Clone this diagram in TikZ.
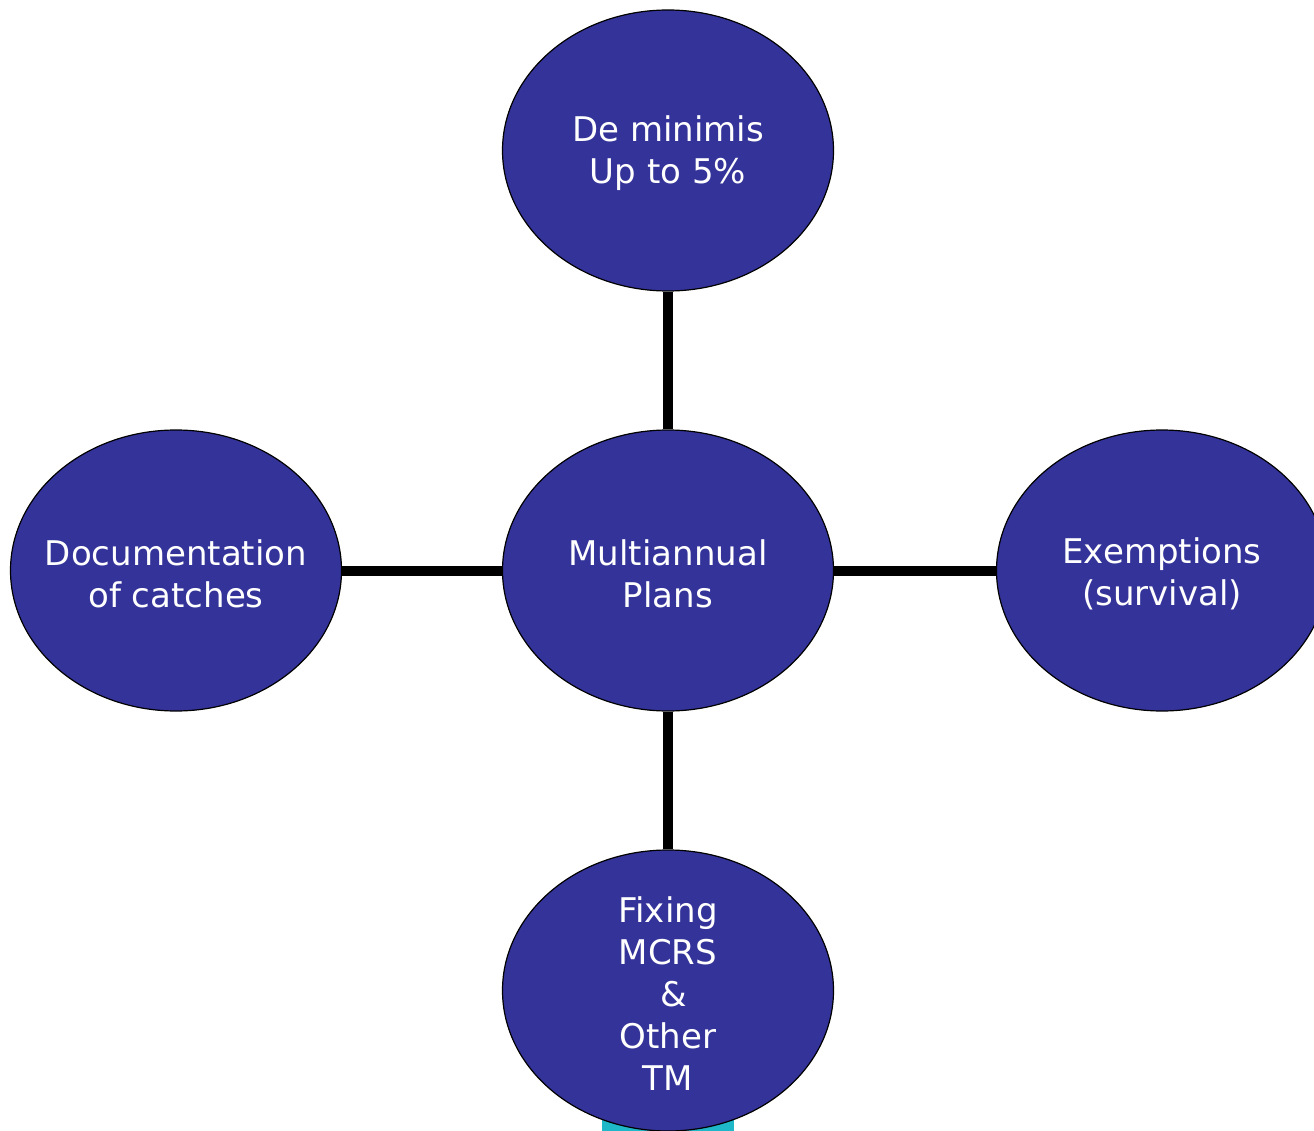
\documentclass[tikz,border=0pt]{standalone}
\usepackage{fontspec}
\setmainfont{DejaVu Sans}
\usetikzlibrary{shapes.geometric}
\definecolor{bubble}{HTML}{333399}
\definecolor{cyanbar}{HTML}{1FB8C8}
\tikzset{
  bubble/.style={ellipse, draw=black, line width=1.2pt, fill=bubble,
    minimum width=331pt, minimum height=281pt, inner sep=0pt},
  lbl/.style={text=white, align=center, inner sep=0pt,
    font=\fontsize{34pt}{42pt}\selectfont},
  link/.style={draw=black, line width=10pt}
}
\begin{document}
\begin{tikzpicture}[x=1pt,y=1pt]
\useasboundingbox (0,0) rectangle (1314,-1131);
\fill[cyanbar] (602,-1116) rectangle (734,-1131);
\node[bubble] (top) at (668,-150.5) {};
\node[bubble] (mid) at (668,-570.5) {};
\node[bubble] (left) at (176,-570.5) {};
\node[bubble] (right) at (1162,-570.5) {};
\node[bubble] (bot) at (668,-990.5) {};
\node[lbl] (ttop) at ([yshift=-3pt]top.center) {De minimis\\Up to 5\%};
\node[lbl] (tmid) at ([yshift=-3pt]mid.center) {Multiannual\\Plans};
\node[lbl] (tleft) at ([yshift=-3pt]left.center) {Documentation\\of catches};
\node[lbl] (tright) at ([yshift=-3pt]right.center) {Exemptions\\(survival)};
\node[lbl] (tbot) at ([yshift=-3pt]bot.center) {Fixing\\MCRS\\\ \&\\Other\\TM};
\draw[link] (top.south) -- (mid.north);
\draw[link] (mid.south) -- (bot.north);
\draw[link] (left.east) -- (mid.west);
\draw[link] (mid.east) -- (right.west);
\end{tikzpicture}
\end{document}
